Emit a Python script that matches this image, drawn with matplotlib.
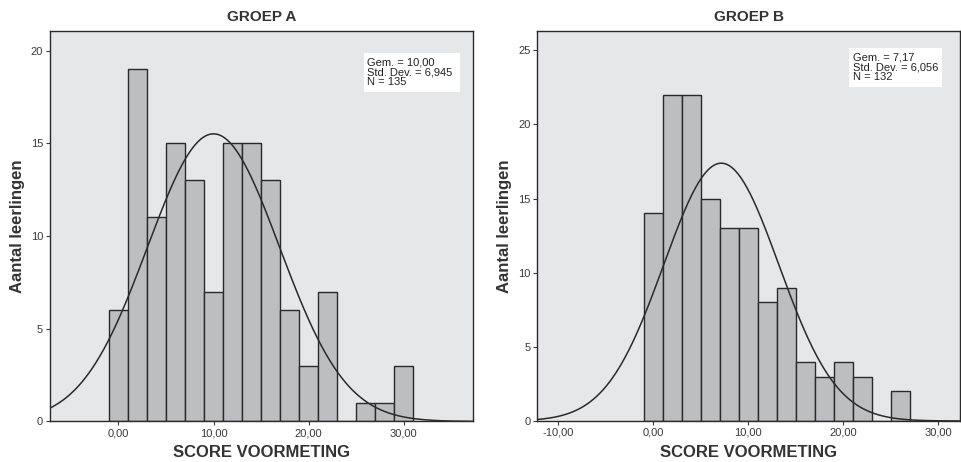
import numpy as np
import matplotlib
matplotlib.use("Agg")
import matplotlib.pyplot as plt
from matplotlib.patches import Rectangle

plt.rcParams['font.family'] = ['Liberation Sans', 'DejaVu Sans']

# histogram data (bins of width 2, first bin starts at -1)
bin_start = -1
bin_width = 2
counts_a = [6, 19, 11, 15, 13, 7, 15, 15, 13, 6, 3, 7, 0, 1, 1, 3]
counts_b = [14, 22, 22, 15, 13, 13, 8, 9, 4, 3, 4, 3, 0, 2]

mean_a, sd_a, n_a = 10.00, 6.945, 135
mean_b, sd_b, n_b = 7.17, 6.056, 132

titles = ["GROEP A", "GROEP B"]
stat_texts = ["Gem. = 10,00\nStd. Dev. = 6,945\nN = 135",
              "Gem. = 7,17\nStd. Dev. = 6,056\nN = 132"]
xticks_a = [0, 10, 20, 30]
xticks_b = [-10, 0, 10, 20, 30]
yticks_a = [0, 5, 10, 15, 20]
yticks_b = [0, 5, 10, 15, 20, 25]

fig = plt.figure(figsize=(9.62, 4.62), dpi=100)
ax_a = fig.add_axes([0.052, 0.0877, 0.4397, 0.845])
ax_b = fig.add_axes([0.5585, 0.0887, 0.4394, 0.844])

setups = [
    (ax_a, counts_a, mean_a, sd_a, n_a, xticks_a, yticks_a, (-7.2, 37.3), (0, 21.05),
     (0.742, 0.845, 0.227, 0.099)),
    (ax_b, counts_b, mean_b, sd_b, n_b, xticks_b, yticks_b, (-12.2, 32.3), (0, 26.3),
     (0.738, 0.857, 0.219, 0.100)),
]

for i, (ax, counts, mu, sd, n, xt, yt, xl, yl, box) in enumerate(setups):
    edges = bin_start + bin_width * np.arange(len(counts))
    ax.set_facecolor('#e6e7e8')
    ax.bar(edges, counts, width=bin_width, align='edge', color='#bdbec0',
           edgecolor='#2a2a2a', linewidth=1.0, zorder=2)

    # normal curve scaled to counts
    xs = np.linspace(xl[0], xl[1], 400)
    ys = n * bin_width / (sd * np.sqrt(2 * np.pi)) * np.exp(-0.5 * ((xs - mu) / sd) ** 2)
    ax.plot(xs, ys, color='#2a2a2a', linewidth=1.1, zorder=3)

    ax.set_xlim(*xl)
    ax.set_ylim(*yl)
    ax.set_xticks(xt)
    ax.set_xticklabels([f"{v:.2f}".replace('.', ',') for v in xt], fontsize=8, color='#3a3a3a')
    ax.set_yticks(yt)
    ax.set_yticklabels([str(v) for v in yt], fontsize=8, color='#3a3a3a')
    ax.tick_params(axis='both', length=3, width=0.8, color='#3a3a3a', pad=2)
    for s in ax.spines.values():
        s.set_color('#2a2a2a')
        s.set_linewidth(1.0)

    ax.set_title(titles[i], fontsize=11, fontweight='bold', color='#333333', pad=7)
    ax.set_xlabel("SCORE VOORMETING", fontsize=12, fontweight='bold', color='#333333', labelpad=5)
    ax.set_ylabel("Aantal leerlingen", fontsize=12, fontweight='bold', color='#333333', labelpad=4)

    # statistics box
    ax.add_patch(Rectangle((box[0], box[1]), box[2], box[3], transform=ax.transAxes,
                           facecolor='white', edgecolor='none', zorder=4))
    ax.text(box[0] + 0.008, box[1] + box[3] - 0.012, stat_texts[i], transform=ax.transAxes,
            fontsize=8, va='top', ha='left', linespacing=0.95, color='#222222', zorder=5)

fig.savefig("out.png", dpi=100)
